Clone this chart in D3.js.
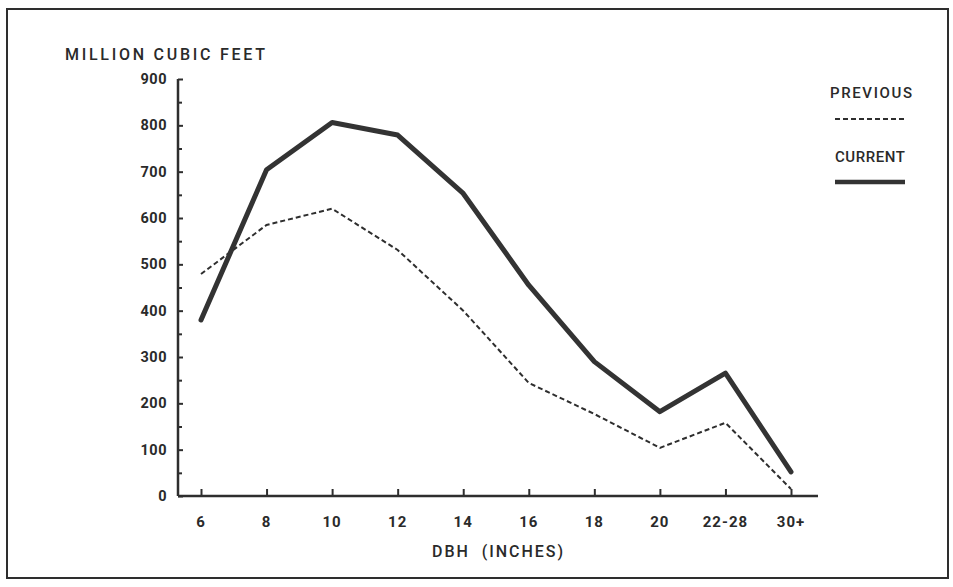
<!DOCTYPE html>
<html>
<head>
<meta charset="utf-8">
<script src="https://cdn.jsdelivr.net/npm/d3@7"></script>
<style>
  html, body { margin: 0; padding: 0; background: #fff; }
  svg text { font-family: Roboto, "DejaVu Sans", sans-serif; font-weight: bold; fill: #2a2a2a; }
</style>
</head>
<body>
<svg id="chart" width="953" height="587"></svg>
<script>
const categories = ["6", "8", "10", "12", "14", "16", "18", "20", "22-28", "30+"];
const currentValues  = [380, 704, 806, 779, 653, 455, 290, 182, 265, 52];
const previousValues = [479, 585, 620, 531, 400, 244, 177, 104, 158, 15];
const yTicks = [0, 100, 200, 300, 400, 500, 600, 700, 800, 900];
const yMinorTicks = [50, 150, 250, 350, 450, 550, 650, 750, 850];
const seriesNames = ["PREVIOUS", "CURRENT"];
const yTitle = "MILLION CUBIC FEET";
const xTitle = "DBH  (INCHES)";

const svg = d3.select("#chart");
const ink = "#2e2e2e";

// outer frame
svg.append("rect").attr("x", 7).attr("y", 9).attr("width", 941).attr("height", 569)
  .attr("fill", "none").attr("stroke", ink).attr("stroke-width", 2);

const axisLeft = 178, axisRight = 818, axisBottom = 496, axisTop = 79;
const x = d3.scalePoint().domain(categories).range([201, 791]);
const y = d3.scaleLinear().domain([0, 900]).range([axisBottom, axisTop]);

// y axis ticks (pointing inward)
const gy = svg.append("g").attr("transform", `translate(${axisLeft},0)`);
gy.call(d3.axisRight(y).tickValues(yTicks).tickSize(5).tickFormat(""));
gy.append("g").call(d3.axisRight(y).tickValues(yMinorTicks).tickSize(4).tickFormat(""));
gy.selectAll("path.domain").remove();
gy.selectAll(".tick line").attr("stroke", ink).attr("stroke-width", 2);

svg.selectAll("text.ylab").data(yTicks).enter().append("text")
  .attr("class", "ylab")
  .attr("x", 167).attr("y", d => y(d) + 5)
  .attr("text-anchor", "end")
  .attr("font-size", 14.5)
  .attr("letter-spacing", 0.5)
  .text(d => d);

// x axis ticks (pointing up)
const gx = svg.append("g").attr("transform", `translate(0,${axisBottom})`);
gx.call(d3.axisTop(x).tickSize(7).tickFormat(""));
gx.select("path.domain").remove();
gx.selectAll(".tick line").attr("stroke", ink).attr("stroke-width", 2);

svg.append("line").attr("x1", axisLeft).attr("x2", axisRight)
  .attr("y1", axisBottom).attr("y2", axisBottom)
  .attr("stroke", ink).attr("stroke-width", 2.5);
svg.append("line").attr("x1", axisLeft).attr("x2", axisLeft)
  .attr("y1", axisTop).attr("y2", axisBottom)
  .attr("stroke", ink).attr("stroke-width", 2.5);

svg.selectAll("text.xlab").data(categories).enter().append("text")
  .attr("class", "xlab")
  .attr("x", d => x(d)).attr("y", 527)
  .attr("text-anchor", "middle")
  .attr("font-size", 15)
  .attr("letter-spacing", 1)
  .text(d => d);

// titles
svg.append("text").attr("x", 65).attr("y", 60).attr("font-size", 16)
  .style("font-weight", 500)
  .attr("textLength", 200).attr("lengthAdjust", "spacing").text(yTitle);
svg.append("text").attr("x", 432).attr("y", 557).attr("font-size", 16)
  .style("font-weight", 500)
  .attr("textLength", 131).attr("lengthAdjust", "spacing")
  .attr("xml:space", "preserve").style("white-space", "pre").text(xTitle);

// lines
const line = d3.line().x((d, i) => x(categories[i])).y(d => y(d));
svg.append("path").datum(previousValues).attr("d", line)
  .attr("fill", "none").attr("stroke", ink).attr("stroke-width", 2)
  .attr("stroke-dasharray", "5,3");
svg.append("path").datum(currentValues).attr("d", line)
  .attr("fill", "none").attr("stroke", "#333").attr("stroke-width", 5)
  .attr("stroke-linejoin", "round").attr("stroke-linecap", "round");

// legend
svg.append("text").attr("x", 830).attr("y", 98).attr("font-size", 15)
  .style("font-weight", 500)
  .attr("textLength", 82).attr("lengthAdjust", "spacing").text(seriesNames[0]);
svg.append("line").attr("x1", 835).attr("x2", 904).attr("y1", 119).attr("y2", 119)
  .attr("stroke", ink).attr("stroke-width", 2).attr("stroke-dasharray", "5,3");
svg.append("text").attr("x", 835).attr("y", 162).attr("font-size", 15)
  .style("font-weight", 500)
  .attr("textLength", 70).attr("lengthAdjust", "spacing").text(seriesNames[1]);
svg.append("line").attr("x1", 835).attr("x2", 905).attr("y1", 182).attr("y2", 182)
  .attr("stroke", "#333").attr("stroke-width", 4.5);
</script>
</body>
</html>
